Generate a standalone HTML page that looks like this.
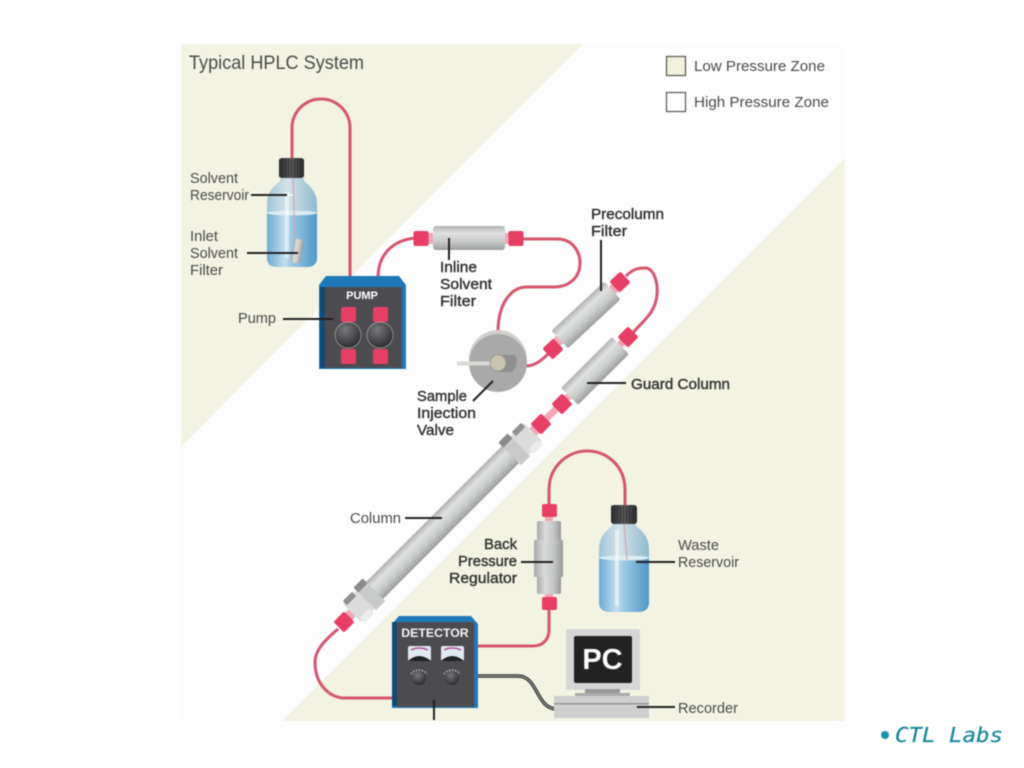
<!DOCTYPE html>
<html><head><meta charset="utf-8"><title>Typical HPLC System</title>
<style>html,body{margin:0;padding:0;background:#fff;width:1024px;height:768px;overflow:hidden}svg{display:block;filter:blur(.45px)}
text{font-family:"Liberation Sans",sans-serif;fill:#4a4a4a;font-size:15px}
.b{fill:#333;stroke:#333;stroke-width:.4px;font-size:15px}
.p{stroke:#222;stroke-width:2;fill:none}
.t{stroke:#d5566c;stroke-width:3;fill:none}
</style></head><body>
<svg width="1024" height="768" viewBox="0 0 1024 768" xmlns="http://www.w3.org/2000/svg">
<defs>
<linearGradient id="cy" x1="0" y1="0" x2="0" y2="1"><stop offset="0" stop-color="#b0b1b2"/><stop offset=".3" stop-color="#e0e1e1"/><stop offset=".65" stop-color="#c9caca"/><stop offset="1" stop-color="#9c9d9e"/></linearGradient>
<linearGradient id="cx" x1="0" y1="0" x2="1" y2="0"><stop offset="0" stop-color="#a9aaab"/><stop offset=".35" stop-color="#dadbdb"/><stop offset=".7" stop-color="#c4c5c6"/><stop offset="1" stop-color="#98999a"/></linearGradient>
<linearGradient id="liq" x1="0" y1="0" x2="1" y2="0"><stop offset="0" stop-color="#6dabd2"/><stop offset=".35" stop-color="#c2deee"/><stop offset=".5" stop-color="#9ac9e3"/><stop offset="1" stop-color="#5098c6"/></linearGradient>
<linearGradient id="gl" x1="0" y1="0" x2="1" y2="0"><stop offset="0" stop-color="#a0c5d8"/><stop offset=".4" stop-color="#d5e3e8"/><stop offset="1" stop-color="#90bad0"/></linearGradient>
<linearGradient id="cap" x1="0" y1="0" x2="1" y2="0"><stop offset="0" stop-color="#2c2c2e"/><stop offset=".5" stop-color="#5c5c5e"/><stop offset="1" stop-color="#2c2c2e"/></linearGradient>
<radialGradient id="ball" cx=".4" cy=".3" r=".8"><stop offset="0" stop-color="#77787a"/><stop offset="1" stop-color="#242426"/></radialGradient>
<g id="fit"><rect x="-7.500" y="-7.500" width="15" height="15" rx="2" fill="#e63f66"/></g>
</defs>

<!-- background -->
<rect x="181" y="44" width="664" height="677" fill="#f3f3e3"/>
<polygon points="583,44 845,44 845,158 282,721 181,721 181,447" fill="#fdfdfd"/>

<!-- legend -->
<rect x="666.500" y="56.500" width="19" height="19" fill="#f1f1dd" stroke="#555" stroke-width="1.200"/>
<rect x="666.500" y="92.500" width="19" height="19" fill="#fff" stroke="#555" stroke-width="1.200"/>
<text x="694" y="71" textLength="131" lengthAdjust="spacingAndGlyphs">Low Pressure Zone</text>
<text x="694" y="107" textLength="135" lengthAdjust="spacingAndGlyphs">High Pressure Zone</text>
<text x="189" y="69" style="font-size:19px" textLength="175" lengthAdjust="spacingAndGlyphs">Typical HPLC System</text>

<!-- tubes -->
<path class="t" d="M292,160 V128 A29,29 0 0 1 350,128 V278"/>
<path class="t" d="M378,278 C378,255 392,240 416,238"/>
<path class="t" d="M522,239 H557 C573,239 580,252 580,263 C580,279 567,287 555,287 H527 C510,287 498,305 498,332"/>
<path class="t" d="M526,366 C535,366 542,360 549,353"/>
<path class="t" d="M626,276 C634,268 640,268 645,268 C655,268 658,285 657,295 C655,315 640,323 633,333"/>
<path class="t" d="M338,629 C325,640 315,650 315,662 C315,685 330,698 345,698 H393"/>
<path class="t" d="M477,646 H533 C544,646 549,638 549,630 V608"/>
<path class="t" d="M549,505 V490 C549,466 568,451 587,451 C607,451 625,466 625,490 V506"/>
<path d="M477,676 H518 C538,676 536,708 556,709" fill="none" stroke="#333" stroke-width="3.500"/>
<path d="M477,676 H518 C538,676 536,708 556,709" fill="none" stroke="#aaa" stroke-width="1"/>

<!-- solvent bottle -->
<path d="M280,178 V181 C274,186 267,192 267,204 V258 Q267,267 278,267 H306 Q317,267 317,258 V204 C317,192 310,186 304,181 V178Z" fill="url(#gl)"/>
<path d="M267,212 Q292,216 317,212 V258 Q317,267 306,267 H278 Q267,267 267,258Z" fill="url(#liq)"/>
<ellipse cx="292" cy="213" rx="25" ry="2.500" fill="#dcecf3"/>
<rect x="285" y="192" width="4" height="66" fill="#fff" opacity=".5"/>
<rect x="281" y="194" width="12" height="2" fill="#fff" opacity=".8"/>
<path d="M293,178 L295,242" stroke="#d89aa8" stroke-width="1" fill="none"/>
<rect x="279" y="158" width="25" height="20" rx="3" fill="url(#cap)"/>
<path d="M279,168 H304" stroke="#222" stroke-width="18" stroke-dasharray="1 2" opacity=".6"/>
<g transform="translate(297,251) rotate(9)"><rect x="-5" y="-12" width="10" height="24" rx="1.500" fill="url(#cx)"/></g>

<!-- pump -->
<path d="M319,369 V285 L326,276 H399 L406,285 V369Z" fill="#1f78b8"/>
<rect x="325" y="287" width="77" height="81" fill="#4c4c50"/>
<rect x="320" y="287" width="5" height="81" fill="#114a75"/>
<text x="362" y="299" text-anchor="middle" style="font-size:11px;font-weight:bold;fill:#fff">PUMP</text>
<rect x="341" y="307" width="15" height="15" rx="2" fill="#e63f66"/><rect x="373" y="307" width="15" height="15" rx="2" fill="#e63f66"/>
<rect x="341" y="349" width="15" height="15" rx="2" fill="#e63f66"/><rect x="373" y="349" width="15" height="15" rx="2" fill="#e63f66"/>
<circle cx="348" cy="335" r="13" fill="url(#ball)" stroke="#aaa" stroke-width=".7"/>
<circle cx="380" cy="335" r="13" fill="url(#ball)" stroke="#aaa" stroke-width=".7"/>

<!-- inline filter -->
<rect x="426" y="233" width="90" height="11" fill="#f2a7b6"/>
<rect x="433" y="226" width="72" height="24" rx="3" fill="url(#cy)"/>
<use href="#fit" x="421" y="238.500"/>
<use href="#fit" x="516" y="238.500"/>

<!-- valve -->
<circle cx="498" cy="359" r="29" fill="#d0d0cf"/>
<circle cx="498" cy="363" r="29" fill="#a9a9a9"/>
<path d="M499,355 H515 Q520,363 512,372 H499Z" fill="#8f8f8f"/>
<rect x="457" y="361.500" width="38" height="4" fill="#d8d8d4"/>
<circle cx="498" cy="363" r="8" fill="#c9c5b0" stroke="#9b9b90" stroke-width="1"/>

<!-- precolumn filter -->
<g transform="translate(586,315) rotate(-43)">
<rect x="-48" y="-5" width="96" height="10" fill="#f2a7b6"/>
<rect x="-36" y="-12" width="72" height="24" rx="2" fill="url(#cy)"/>
</g>
<use href="#fit" transform="translate(553,349) rotate(-43)"/>
<use href="#fit" transform="translate(620,282) rotate(-43)"/>

<!-- guard column -->
<path d="M544,421 L630,335" stroke="#f2a7b6" stroke-width="7"/>
<g transform="translate(595,371) rotate(-45)"><rect x="-36" y="-12" width="72" height="24" rx="2" fill="url(#cy)"/></g>
<use href="#fit" transform="translate(628,337) rotate(-45)"/>
<use href="#fit" transform="translate(562,404) rotate(-45)"/>

<!-- column -->
<g transform="translate(442.500,522.500) rotate(-45)">
<rect x="-136" y="-5" width="272" height="10" fill="#f2a7b6"/>
<rect x="-100" y="-12" width="200" height="24" fill="url(#cy)"/>
<rect x="96" y="-15" width="13" height="30" fill="#c8c9c9"/>
<rect x="96" y="-17" width="13" height="7" rx="1" fill="#8a8b8c"/>
<rect x="109" y="-13" width="19" height="26" rx="2" fill="#dcdcdc"/>
<rect x="113" y="-15" width="13" height="6" rx="1" fill="#8f9091"/>
<rect x="113" y="9" width="13" height="7" rx="1" fill="#ececec"/>
<rect x="-109" y="-15" width="13" height="30" fill="#c8c9c9"/>
<rect x="-109" y="-17" width="13" height="7" rx="1" fill="#8a8b8c"/>
<rect x="-128" y="-13" width="19" height="26" rx="2" fill="#dcdcdc"/>
<rect x="-126" y="-15" width="13" height="6" rx="1" fill="#8f9091"/>
<rect x="-126" y="9" width="13" height="7" rx="1" fill="#ececec"/>
</g>
<use href="#fit" transform="translate(344,622) rotate(-45)"/>
<use href="#fit" transform="translate(541,424) rotate(-45)"/>

<!-- regulator -->
<rect x="545" y="515" width="8" height="85" fill="#f2a7b6"/>
<rect x="537" y="521" width="24" height="73" rx="2" fill="url(#cx)"/>
<rect x="534" y="540" width="29" height="37" rx="1" fill="url(#cx)"/>
<rect x="542" y="504" width="15" height="13" rx="2" fill="#e63f66"/>
<rect x="542" y="597" width="15" height="13" rx="2" fill="#e63f66"/>

<!-- waste bottle -->
<path d="M612,523 V526 C606,531 599,537 599,549 V602 Q599,612 610,612 H638 Q649,612 649,602 V549 C649,537 642,531 636,526 V523Z" fill="url(#gl)"/>
<path d="M599,557 Q624,561 649,557 V602 Q649,612 638,612 H610 Q599,612 599,602Z" fill="url(#liq)"/>
<ellipse cx="624" cy="558" rx="25" ry="2.500" fill="#dcecf3"/>
<rect x="615" y="530" width="4" height="76" fill="#fff" opacity=".5"/>
<path d="M624,523 L627,560" stroke="#d89aa8" stroke-width="1" fill="none"/>
<rect x="611" y="505" width="26" height="19" rx="3" fill="url(#cap)"/>
<path d="M611,514 H637" stroke="#222" stroke-width="17" stroke-dasharray="1 2" opacity=".6"/>

<!-- detector -->
<path d="M392,708 V624 L399,616 H471 L478,624 V708Z" fill="#1f78b8"/>
<rect x="397" y="622" width="77" height="85" fill="#4c4c50"/>
<rect x="392" y="622" width="5" height="84" fill="#114a75"/>
<text x="435" y="637" text-anchor="middle" style="font-size:12.300px;font-weight:bold;fill:#f4f4f4">DETECTOR</text>
<rect x="408" y="646" width="23" height="15" rx="2" fill="#dfe9ef"/><path d="M408,661 Q419,651 431,661Z" fill="#222"/><path d="M411,650 Q419,646 428,650" stroke="#b0549a" stroke-width="1.500" fill="none"/>
<rect x="441" y="646" width="23" height="15" rx="2" fill="#dfe9ef"/><path d="M441,661 Q452,651 464,661Z" fill="#222"/><path d="M444,650 Q452,646 461,650" stroke="#b0549a" stroke-width="1.500" fill="none"/>
<circle cx="419" cy="678" r="7" fill="url(#ball)"/><circle cx="452" cy="678" r="7" fill="url(#ball)"/>
<path d="M411,674 A10,10 0 0 1 427,674 M444,674 A10,10 0 0 1 460,674" stroke="#bbb" stroke-width="1.500" stroke-dasharray="1.500 1.500" fill="none"/>

<!-- PC -->
<rect x="566" y="629" width="74" height="61" rx="2" fill="#d6d6d6"/>
<rect x="574" y="636" width="58" height="47" rx="2" fill="#222"/>
<text x="602.500" y="669" text-anchor="middle" style="font-size:29px;font-weight:bold;fill:#fff">PC</text>
<rect x="585" y="689" width="35" height="5" fill="#999"/>
<rect x="575" y="693" width="55" height="4" fill="#aaa"/>
<rect x="554" y="696" width="95" height="22" fill="#cfcfcf"/>
<rect x="554" y="703" width="95" height="1.500" fill="#999"/>

<!-- pointers -->
<path class="p" d="M251,195 H287 M247,253 H298 M283,319 H333 M449,238 V260 M601,240 V291 M473,401 L493,381 M587,383 H626 M405,518 H442 M521,562 H553 M636,562 H675 M434,700 V720 M637,707 H675"/>

<!-- labels -->
<text x="190" y="183" textLength="48" lengthAdjust="spacingAndGlyphs">Solvent</text><text x="190" y="200" textLength="59" lengthAdjust="spacingAndGlyphs">Reservoir</text>
<text x="190" y="241" textLength="28" lengthAdjust="spacingAndGlyphs">Inlet</text><text x="190" y="258" textLength="48" lengthAdjust="spacingAndGlyphs">Solvent</text><text x="190" y="275" textLength="33" lengthAdjust="spacingAndGlyphs">Filter</text>
<text x="238" y="323" textLength="38" lengthAdjust="spacingAndGlyphs">Pump</text>
<text class="b" x="440" y="272" textLength="37" lengthAdjust="spacingAndGlyphs">Inline</text><text class="b" x="440" y="289" textLength="52" lengthAdjust="spacingAndGlyphs">Solvent</text><text class="b" x="440" y="306" textLength="36" lengthAdjust="spacingAndGlyphs">Filter</text>
<text class="b" x="591" y="219" textLength="73" lengthAdjust="spacingAndGlyphs">Precolumn</text><text class="b" x="591" y="236" textLength="36" lengthAdjust="spacingAndGlyphs">Filter</text>
<text class="b" x="417" y="401" textLength="50" lengthAdjust="spacingAndGlyphs">Sample</text><text class="b" x="417" y="418" textLength="59" lengthAdjust="spacingAndGlyphs">Injection</text><text class="b" x="417" y="435" textLength="37" lengthAdjust="spacingAndGlyphs">Valve</text>
<text class="b" x="631" y="389" textLength="99" lengthAdjust="spacingAndGlyphs">Guard Column</text>
<text x="350" y="523" textLength="51" lengthAdjust="spacingAndGlyphs">Column</text>
<text class="b" x="484" y="549" textLength="33" lengthAdjust="spacingAndGlyphs">Back</text><text class="b" x="458" y="566" textLength="59" lengthAdjust="spacingAndGlyphs">Pressure</text><text class="b" x="449" y="583" textLength="68" lengthAdjust="spacingAndGlyphs">Regulator</text>
<text x="678" y="550" textLength="41" lengthAdjust="spacingAndGlyphs">Waste</text><text x="678" y="567" textLength="61" lengthAdjust="spacingAndGlyphs">Reservoir</text>
<text x="678" y="713" textLength="60" lengthAdjust="spacingAndGlyphs">Recorder</text>

<!-- footer -->
<circle cx="885" cy="735" r="4" fill="#1a93a8"/>
<text x="895" y="742" style="font-family:'DejaVu Sans Mono','Liberation Mono',monospace;font-style:italic;font-size:20px;fill:#14879a;stroke:#14879a;stroke-width:.2px" textLength="108" lengthAdjust="spacingAndGlyphs">CTL Labs</text>
</svg>
</body></html>
